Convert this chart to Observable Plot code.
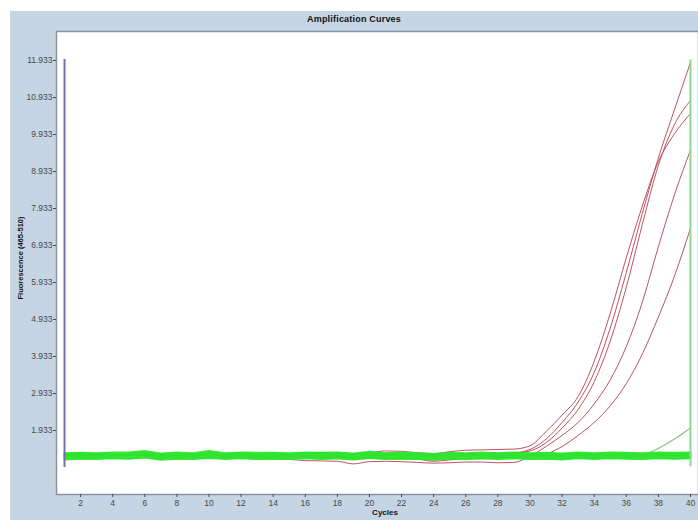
<!DOCTYPE html>
<html><head><meta charset="utf-8">
<script src="https://cdn.jsdelivr.net/npm/d3@7"></script>
<script src="https://cdn.jsdelivr.net/npm/@observablehq/plot@0.6"></script>
<style>
body{margin:0;background:#fff;}
#wrap{position:relative;width:698px;height:520px;overflow:hidden;font-family:"Liberation Sans",Arial,sans-serif;}
#band{position:absolute;left:10px;top:11px;right:0;bottom:0;background:#c5d5e4;}
#title{position:absolute;left:10px;right:0;top:14px;text-align:center;font-weight:bold;font-size:9px;letter-spacing:0.2px;color:#111;}
#ylab{position:absolute;left:20px;top:258px;transform:translate(-50%,-50%) rotate(-90deg);font-weight:bold;font-size:7.5px;white-space:nowrap;color:#111;}
#xlab{position:absolute;left:385px;top:508px;transform:translateX(-50%);font-weight:bold;font-size:8px;color:#111;}
#chart{position:absolute;left:0;top:0;}
</style>
</head>
<body>
<div id="wrap">
  <div id="band"></div>
  <div id="chart"></div>
  <div id="title">Amplification Curves</div>
  <div id="ylab">Fluorescence (465-510)</div>
  <div id="xlab">Cycles</div>
</div>
<script>
const cycles = [1,2,3,4,5,6,7,8,9,10,11,12,13,14,15,16,17,18,19,20,21,22,23,24,25,26,27,28,29,30,31,32,33,34,35,36,37,38,39,40];
const xTicks = [2,4,6,8,10,12,14,16,18,20,22,24,26,28,30,32,34,36,38,40];
const yTicks = [1.933,2.933,3.933,4.933,5.933,6.933,7.933,8.933,9.933,10.933,11.933];

// Negative / baseline samples (green)
const g1 = [1.24,1.27,1.25,1.28,1.26,1.31,1.22,1.27,1.25,1.30, 1.24,1.28,1.25,1.27,1.24,1.28,1.25,1.27,1.23,1.29, 1.25,1.27,1.24,1.22,1.27,1.25,1.28,1.24,1.28,1.25, 1.27,1.23,1.28,1.25,1.28,1.26,1.24,1.28,1.26,1.27];
const g2 = [1.20,1.22,1.21,1.23,1.22,1.26,1.19,1.22,1.21,1.25, 1.21,1.23,1.21,1.22,1.21,1.23,1.21,1.23,1.20,1.24, 1.21,1.22,1.21,1.19,1.22,1.21,1.23,1.21,1.23,1.21, 1.22,1.20,1.23,1.21,1.23,1.22,1.21,1.23,1.22,1.23];
const g3 = [1.29,1.31,1.30,1.32,1.31,1.36,1.28,1.31,1.30,1.35, 1.30,1.32,1.30,1.31,1.30,1.32,1.31,1.32,1.29,1.33, 1.30,1.31,1.30,1.28,1.31,1.30,1.32,1.30,1.32,1.30, 1.31,1.29,1.32,1.30,1.32,1.31,1.30,1.32,1.31,1.32];
const g4 = [1.17,1.19,1.19,1.20,1.18,1.22,1.16,1.19,1.18,1.21, 1.18,1.20,1.17,1.19,1.18,1.20,1.17,1.19,1.16,1.20, 1.17,1.19,1.18,1.15,1.19,1.17,1.19,1.18,1.20,1.17, 1.19,1.17,1.20,1.18,1.20,1.19,1.17,1.20,1.18,1.20];
const g5 = [1.32,1.33,1.32,1.34,1.34,1.38,1.31,1.34,1.32,1.38, 1.32,1.34,1.33,1.33,1.32,1.34,1.33,1.34,1.31,1.36, 1.32,1.34,1.32,1.30,1.33,1.32,1.34,1.32,1.34,1.32, 1.33,1.31,1.34,1.32,1.34,1.33,1.32,1.34,1.33,1.34];
const g6 = [1.25,1.25,1.26,1.26,1.27,1.29,1.24,1.25,1.26,1.28, 1.26,1.26,1.26,1.25,1.26,1.26,1.26,1.26,1.25,1.27, 1.26,1.25,1.26,1.24,1.25,1.26,1.26,1.26,1.26,1.26, 1.25,1.25,1.26,1.26,1.26,1.25,1.26,1.26,1.25,1.26];
const g7 = [1.15,1.17,1.16,1.18,1.17,1.20,1.14,1.17,1.16,1.19, 1.16,1.18,1.16,1.17,1.16,1.18,1.16,1.18,1.15,1.19, 1.16,1.17,1.16,1.14,1.17,1.16,1.18,1.16,1.18,1.16, 1.17,1.15,1.18,1.16,1.18,1.17,1.16,1.18,1.17,1.18];
const g8 = [1.27,1.28,1.28,1.29,1.28,1.33,1.25,1.28,1.27,1.32, 1.27,1.29,1.27,1.28,1.27,1.29,1.27,1.29,1.26,1.30, 1.28,1.28,1.27,1.25,1.28,1.27,1.29,1.27,1.29,1.27, 1.28,1.26,1.29,1.27,1.29,1.28,1.27,1.29,1.28,1.29];
// Late-rising sample (pale green)
const g9 = [1.23,1.25,1.24,1.26,1.25,1.29,1.22,1.25,1.24,1.28, 1.24,1.26,1.24,1.25,1.24,1.26,1.24,1.26,1.23,1.27, 1.24,1.25,1.24,1.22,1.25,1.24,1.26,1.24,1.26,1.24, 1.25,1.23,1.26,1.24,1.26,1.25,1.28,1.45,1.70,2.00];

// Positive samples (red)
const rA = [1.25,1.24,1.26,1.25,1.27,1.26,1.25,1.26,1.27,1.26, 1.25,1.26,1.27,1.25,1.26,1.30,1.34,1.33,1.30,1.33, 1.38,1.37,1.33,1.31,1.36,1.40,1.41,1.42,1.43,1.52, 1.90,2.35,2.85,3.80,5.10,6.60,8.00,9.20,9.95,10.50];
const rB = [1.26,1.25,1.25,1.27,1.26,1.27,1.24,1.26,1.25,1.28, 1.26,1.27,1.25,1.24,1.22,1.20,1.21,1.22,1.18,1.23, 1.27,1.28,1.27,1.26,1.28,1.30,1.31,1.32,1.33,1.42, 1.70,2.15,2.70,3.50,4.70,6.20,7.80,9.30,10.60,11.88];
const rC = [1.25,1.26,1.26,1.25,1.27,1.26,1.26,1.25,1.27,1.25, 1.26,1.25,1.26,1.27,1.28,1.30,1.31,1.28,1.26,1.30, 1.32,1.29,1.27,1.25,1.26,1.27,1.29,1.31,1.32,1.38, 1.60,2.00,2.50,3.25,4.35,5.80,7.50,9.10,10.20,10.85];
const rD = [1.26,1.25,1.26,1.27,1.25,1.26,1.25,1.27,1.26,1.26, 1.25,1.24,1.22,1.19,1.15,1.12,1.11,1.10,1.03,1.09, 1.10,1.09,1.07,1.05,1.06,1.08,1.08,1.06,1.07,1.24, 1.50,1.80,2.15,2.65,3.30,4.20,5.40,6.90,8.30,9.51];
const rE = [1.25,1.26,1.25,1.26,1.26,1.25,1.27,1.26,1.25,1.27, 1.26,1.26,1.25,1.26,1.24,1.23,1.21,1.22,1.20,1.19, 1.20,1.18,1.16,1.10,1.14,1.17,1.19,1.20,1.21,1.24, 1.30,1.50,1.80,2.15,2.60,3.20,4.00,5.00,6.10,7.40];

// Cursor lines
const leftCursor = [{cycle:1, lo:0.93, hi:11.96}];
const rightCursor = [{cycle:40, lo:0.95, hi:11.95}];

const greenSeries = {g1,g2,g3,g4,g5,g6,g7,g8};
const lateSeries = {g9};
const redSeries = {rA,rB,rC,rD,rE};
const toLong = (obj) => Object.entries(obj).flatMap(([id, vals]) => vals.map((v,i) => ({id, cycle: cycles[i], value: v})));
const greenData = toLong(greenSeries);
const lateData = toLong(lateSeries);
const redData = toLong(redSeries);

const chart = Plot.plot({
  width: 698, height: 520,
  marginLeft: 56, marginRight: 0, marginTop: 31, marginBottom: 26,
  style: {background: "transparent", color: "#4a4a4a", fontFamily: "Liberation Sans, Arial, sans-serif", fontSize: "8.5px"},
  x: {domain: [0.5, 40.5]},
  y: {domain: [0.203, 12.717]},
  marks: [
    Plot.frame({fill: "white", stroke: "#8a949e", strokeWidth: 1.5}),
    Plot.axisX({ticks: xTicks, tickSize: 3, tickPadding: 2, label: null, tickFormat: d => String(d)}),
    Plot.axisY({ticks: yTicks, tickSize: 3, tickPadding: 1, label: null, tickFormat: d => d.toFixed(3)}),
    Plot.line(redData, {x: "cycle", y: "value", z: "id", stroke: "#b5404f", strokeWidth: 1, strokeOpacity: 0.9, curve: "monotone-x"}),
    Plot.line(lateData, {x: "cycle", y: "value", z: "id", stroke: "#86c486", strokeWidth: 1.2, curve: "monotone-x"}),
    Plot.line(greenData, {x: "cycle", y: "value", z: "id", stroke: "#2ee42e", strokeWidth: 2, strokeOpacity: 0.9}),
    Plot.ruleX(leftCursor, {x: "cycle", y1: "lo", y2: "hi", stroke: "#7a6cae", strokeWidth: 2}),
    Plot.ruleX(rightCursor, {x: "cycle", y1: "lo", y2: "hi", stroke: "#8fd88f", strokeWidth: 2})
  ]
});
document.getElementById("chart").appendChild(chart);
</script>
</body></html>
